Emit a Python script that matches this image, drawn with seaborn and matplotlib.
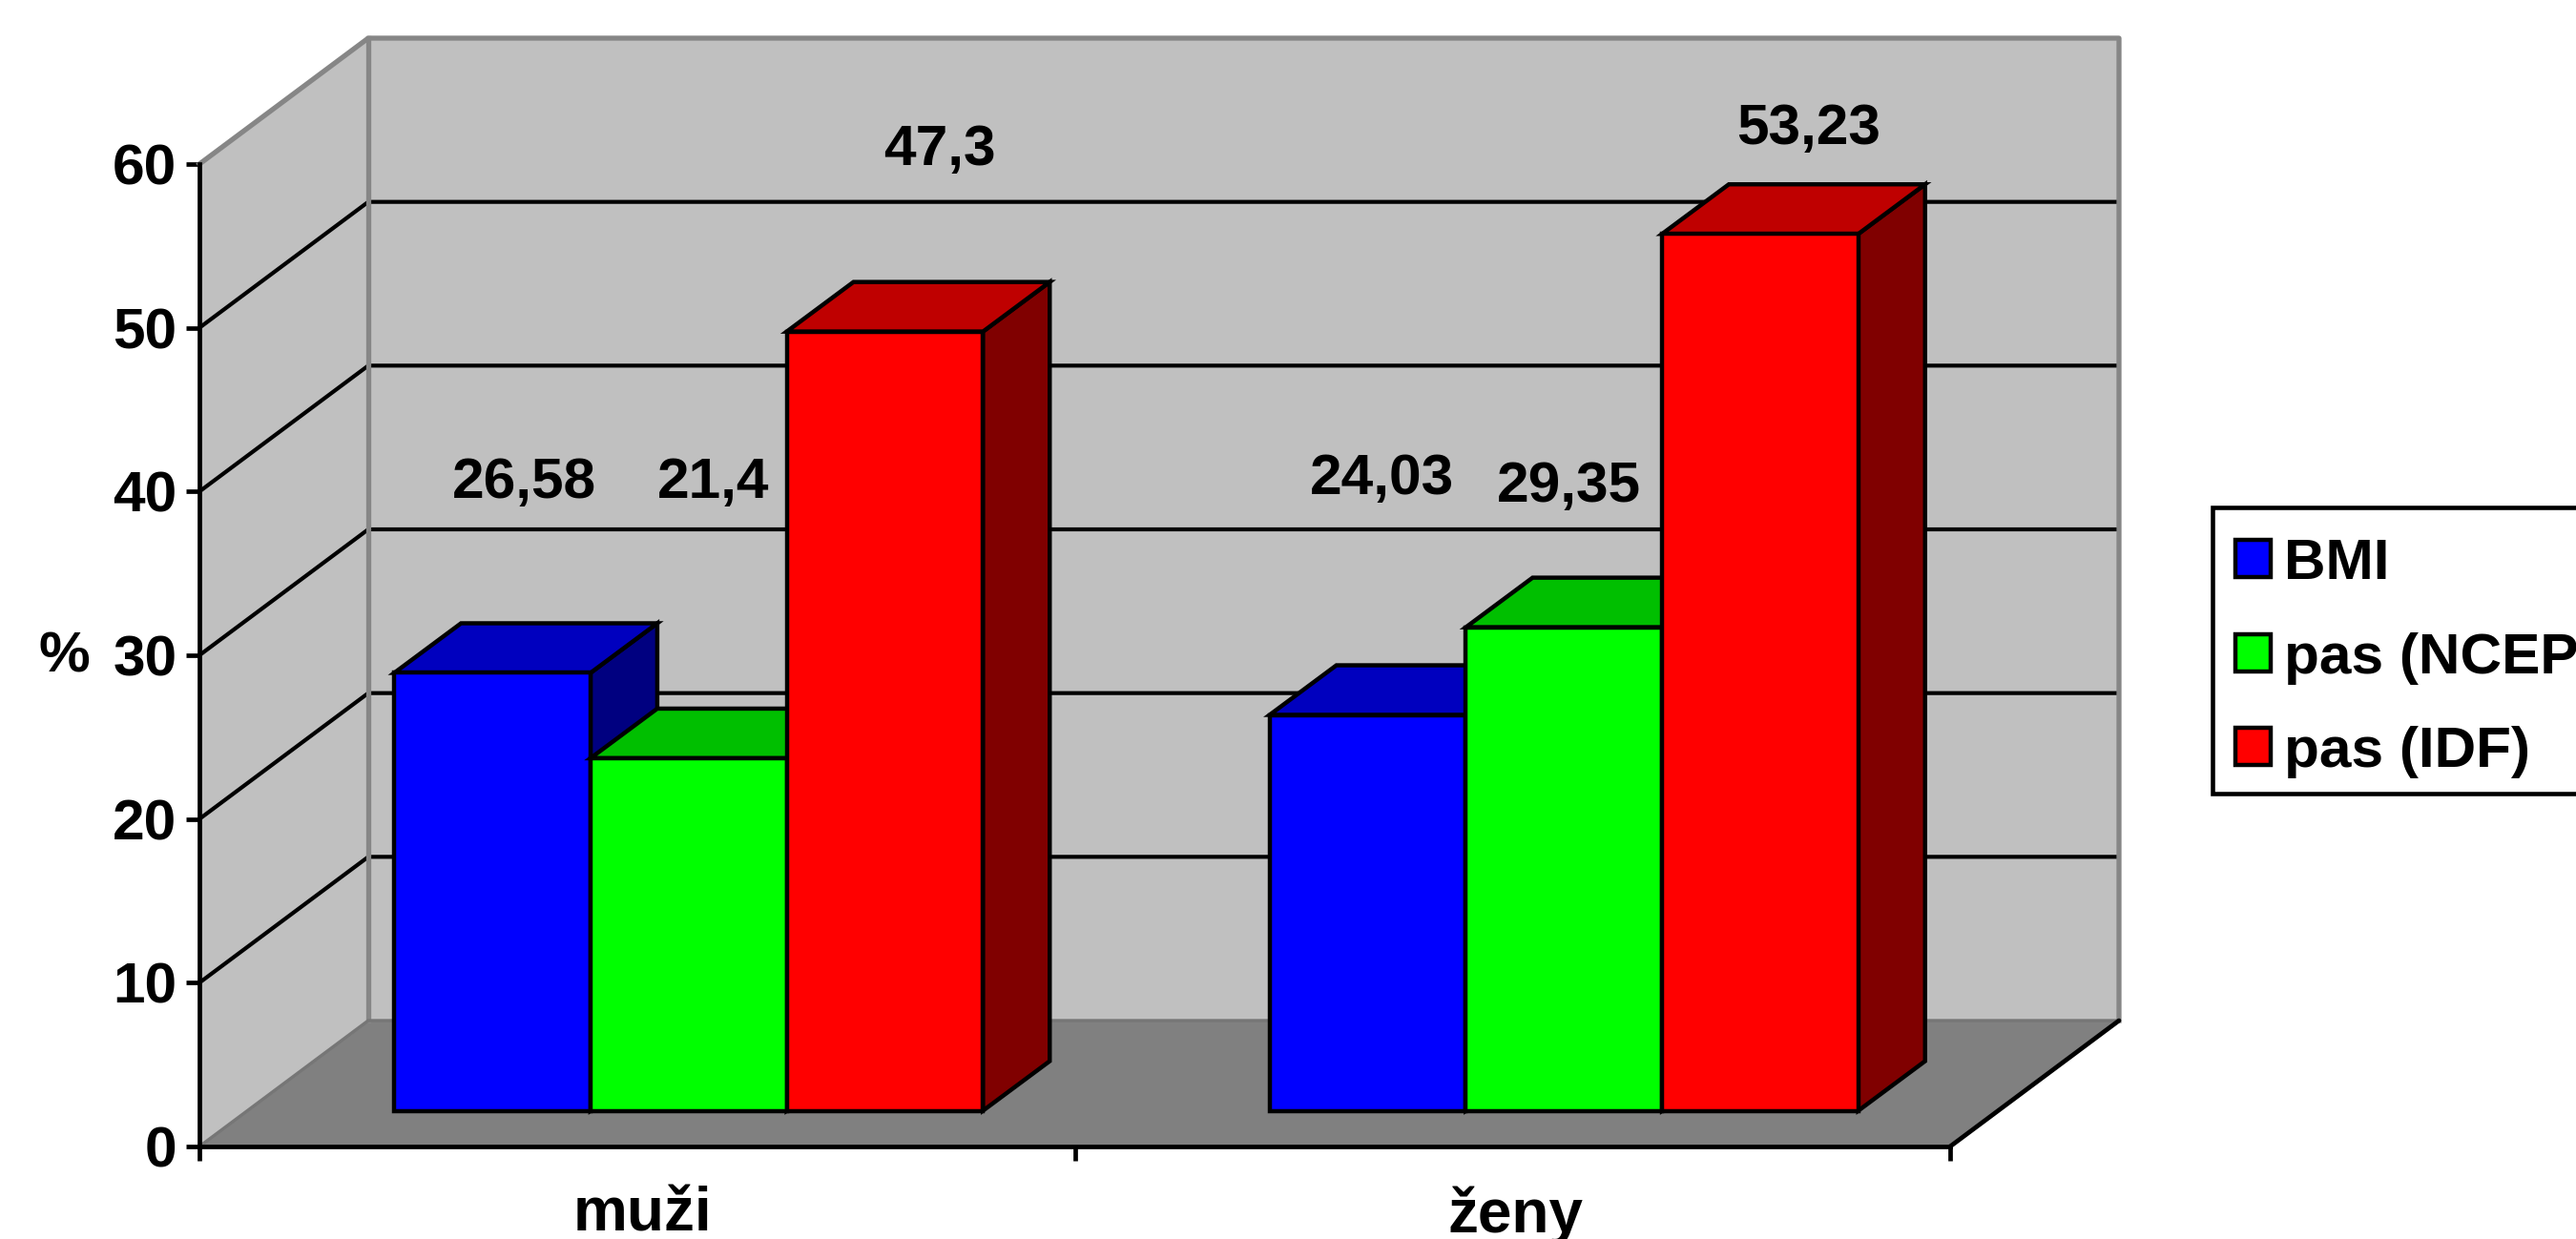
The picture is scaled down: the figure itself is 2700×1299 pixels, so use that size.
import matplotlib
matplotlib.use("Agg")
import matplotlib.pyplot as plt
from matplotlib.patches import Patch, Polygon, Rectangle
import pandas as pd
import seaborn as sns

# Survey values, percent of each group
groups = ["muži", "ženy"]
criteria = ["BMI", "pas (NCEP)", "pas (IDF)"]
bmi = [26.58, 24.03]
pas_ncep = [21.4, 29.35]
pas_idf = [47.3, 53.23]
y_ticks = [0, 10, 20, 30, 40, 50, 60]

front_colors = ["#0000FF", "#00FF00", "#FF0000"]
top_colors = ["#0000BF", "#00BF00", "#BF0000"]
side_colors = ["#000080", "#008000", "#800000"]

W, H = 2700, 1299
AX_L, AX_R, AX_TOP, AX_BOT = 209, 2044, 172, 1202
BAR_SHIFT = (54, 37.5)        # bar plane relative to the front plane, px
BAR_STRETCH = 1.006           # the bar plane sits closer to the viewer's scale of the wall
WALL_DEPTH = (177, 132)       # back wall relative to the front plane, px
BAR_DEPTH = (70, 52)          # depth of each column, px
EDGE = 3.2
AXIS_LW = 3.4
FS = 43.5

sns.set_theme(style="white", rc={"text.color": "black", "axes.labelcolor": "black",
                                 "xtick.color": "black", "ytick.color": "black"})
plt.rcParams["font.family"] = ["Liberation Sans", "DejaVu Sans"]
plt.rcParams["font.weight"] = "bold"

df = pd.DataFrame({
    "group": groups * 3,
    "criterion": [c for c in criteria for _ in groups],
    "value": bmi + pas_ncep + pas_idf,
})

fig = plt.figure(figsize=(W / 100, H / 100), dpi=100, facecolor="white")


def axes_rect(dx=0, dy=0, stretch=1.0):
    return [(AX_L + dx) / W, 1 - (AX_BOT + dy) / H,
            (AX_R - AX_L) / W, stretch * (AX_BOT - AX_TOP) / H]


ax = fig.add_axes(axes_rect())
ax.set_xlim(-0.5, 1.5)
ax.set_ylim(0, 60)
ax.patch.set_visible(False)

ux = 2 / (AX_R - AX_L)      # data units per pixel, horizontal
uy = 60 / (AX_BOT - AX_TOP) # data units per pixel, vertical
wx, wy = WALL_DEPTH[0] * ux, WALL_DEPTH[1] * uy

# Walls and floor of the box
WALL, FLOOR, RIM = "#C0C0C0", "#808080", "#868686"
ax.add_patch(Polygon([(-.5, 0), (-.5 + wx, wy), (1.5 + wx, wy), (1.5, 0)],
                     fc=FLOOR, ec="none", clip_on=False, zorder=1))
ax.add_patch(Polygon([(-.5 + wx, wy), (-.5 + wx, 60 + wy), (1.5 + wx, 60 + wy), (1.5 + wx, wy)],
                     fc=WALL, ec="none", clip_on=False, zorder=1))
ax.add_patch(Polygon([(-.5, 0), (-.5, 60), (-.5 + wx, 60 + wy), (-.5 + wx, wy)],
                     fc=WALL, ec="none", clip_on=False, zorder=1))

# Gridlines run across the left wall and the back wall
for t in y_ticks[1:-1]:
    ax.plot([-.5, -.5 + wx, 1.5 + wx], [t, t + wy, t + wy],
            color="black", lw=3.0, clip_on=False, zorder=2, solid_joinstyle="miter")

rim_kw = dict(color=RIM, clip_on=False, zorder=3, solid_capstyle="projecting")
ax.plot([-.5, -.5 + wx, 1.5 + wx, 1.5 + wx], [60, 60 + wy, 60 + wy, wy], lw=3.8, **rim_kw)
ax.plot([-.5 + wx, -.5 + wx], [wy, 60 + wy], lw=3.8, **rim_kw)
ax.plot([-.5, -.5 + wx, 1.5 + wx], [0, wy, wy], lw=2.4, color="#767676", clip_on=False, zorder=3)
ax.plot([1.5, 1.5 + wx], [0, wy], color="black", lw=AXIS_LW, clip_on=False, zorder=3)

# Axes
for side in ("top", "right"):
    ax.spines[side].set_visible(False)
for side in ("left", "bottom"):
    ax.spines[side].set_linewidth(AXIS_LW)
    ax.spines[side].set_color("black")
    ax.spines[side].set_zorder(4)
ax.set_yticks(y_ticks)
ax.set_yticklabels([str(t) for t in y_ticks], fontsize=FS, fontweight="bold")
ax.tick_params(axis="y", left=True, length=10, width=AXIS_LW, pad=7, color="black")
ax.set_xticks([-.5, .5, 1.5])
ax.set_xticklabels([])
ax.tick_params(axis="x", which="major", bottom=True, length=10.5, width=AXIS_LW, color="black")
ax.set_xticks([0.006, 1.004], minor=True)
ax.set_xticklabels(groups, minor=True, fontsize=46, fontweight="bold")
ax.tick_params(axis="x", which="minor", bottom=False, length=0, pad=30)
ax.text((67 - AX_L) * ux - .5, (AX_BOT - 689) * uy, "%", fontsize=FS, fontweight="bold",
        ha="center", va="center", clip_on=False)

# Columns stand on a plane set back from the front edge of the floor
ax_bar = fig.add_axes(axes_rect(BAR_SHIFT[0], -BAR_SHIFT[1], BAR_STRETCH))
ax_bar.patch.set_visible(False)
sns.barplot(data=df, x="group", y="value", hue="criterion", order=groups, hue_order=criteria,
            palette=front_colors, width=0.6725, gap=0, dodge=True, legend=False,
            edgecolor="black", linewidth=EDGE, saturation=1, ax=ax_bar)
ax_bar.set_xlim(-0.5, 1.5)
ax_bar.set_ylim(0, 60)
ax_bar.axis("off")

bx, by = BAR_DEPTH[0] * ux, BAR_DEPTH[1] * uy / BAR_STRETCH
bars = sorted([p for p in ax_bar.patches if p.get_height() > 0], key=lambda p: p.get_x())
bar_shades = [i for _ in groups for i in range(len(criteria))]
centers = {}
for rank, (bar, shade) in enumerate(zip(bars, bar_shades)):
    x0, x1, h = bar.get_x(), bar.get_x() + bar.get_width(), bar.get_height()
    z = 5 + rank
    poly_kw = dict(ec="black", lw=EDGE, joinstyle="miter", clip_on=False, zorder=z)
    ax_bar.add_patch(Polygon([(x1, 0), (x1 + bx, by), (x1 + bx, h + by), (x1, h)],
                             fc=side_colors[shade], **poly_kw))
    ax_bar.add_patch(Polygon([(x0, h), (x0 + bx, h + by), (x1 + bx, h + by), (x1, h)],
                             fc=top_colors[shade], **poly_kw))
    bar.set_zorder(z + .5)
    bar.set_clip_on(False)
    bar.set_joinstyle("miter")
    centers[rank] = ((x0 + x1) / 2, h)

# Value labels with a decimal comma, each lifted clear of its column
label_offsets = [(33, 199), (26, 288), (57, 190), (15, 247), (5, 147), (51, 110)]
for rank, (dx, dy) in enumerate(label_offsets):
    xc, h = centers[rank]
    ax_bar.annotate(f"{h:g}".replace(".", ","), xy=(xc, h), xytext=(dx, dy),
                    textcoords="offset pixels", fontsize=FS, fontweight="bold",
                    ha="center", va="center", color="black", zorder=20, annotation_clip=False)

# Legend box runs past the right edge of the figure
fig.add_artist(Rectangle((2319 / W, 1 - 832 / H), 450 / W, 300 / H, transform=fig.transFigure,
                         fc="white", ec="black", lw=3.3))
handles = [Patch(facecolor=c, edgecolor="black", linewidth=3.2) for c in front_colors]
leg = fig.legend(handles, criteria, loc="upper left", bbox_to_anchor=(2343 / W, 1 - 564 / H),
                 borderaxespad=0, borderpad=0, fontsize=FS, frameon=False, handlelength=0.61,
                 handleheight=0.61, handletextpad=0.23, labelspacing=0.72)
for t in leg.get_texts():
    t.set_fontweight("bold")

fig.savefig("out.png", dpi=100, facecolor="white")
